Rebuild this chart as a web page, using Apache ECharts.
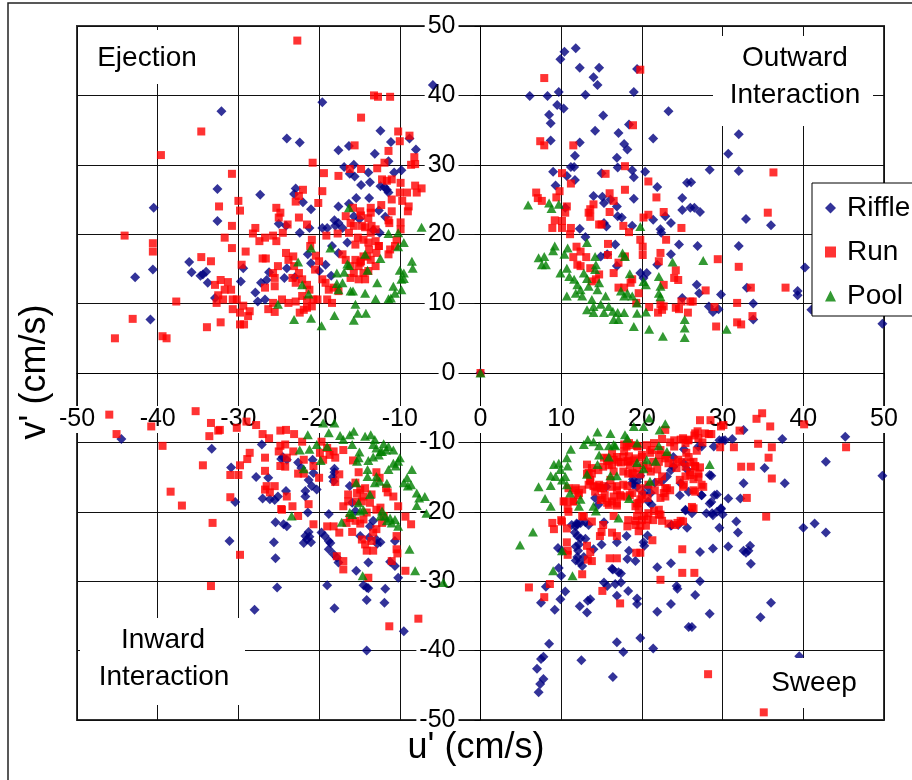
<!DOCTYPE html>
<html>
<head>
<meta charset="utf-8">
<script src="https://cdn.jsdelivr.net/npm/echarts@6/dist/echarts.min.js"></script>
<style>
  html, body { margin: 0; padding: 0; background: #fff; }
  #chart { width: 912px; height: 780px; }
</style>
</head>
<body>
<div id="chart"></div>
<script>
// Velocity fluctuation pairs (u', v') in cm/s for each habitat type
const riffle = [
  [-32.1,37.7],[-32.6,26.5],[-27.3,25.7],[-40.5,23.8],[-32.6,21.9],[-36.1,16.0],[-35.8,14.5],[-40.6,14.9],[-42.8,13.8],[-34.7,14.0],[-34.0,14.6],[-34.4,14.2],[-33.8,13.0],[-29.4,15.1],[-29.7,13.2],[-26.2,14.5],[-27.2,13.0],[-26.5,13.4],[-27.9,11.6],[-27.6,10.3],[-26.7,10.6],[-32.9,10.8],[-40.9,7.7],[-25.0,21.5],
  [-5.9,41.5],[-19.6,39.0],[-24.0,33.8],[-22.4,33.2],[-12.4,34.9],[-17.6,32.1],[-16.3,32.7],[-13.1,31.6],[-11.1,33.3],[-8.8,33.8],[-8.0,32.2],[-11.4,30.5],[-16.9,29.7],[-15.7,30.0],[-16.2,28.7],[-15.6,28.3],[-13.9,28.9],[-13.7,27.5],[-14.8,27.1],[-10.7,28.9],[-9.8,29.2],[-12.4,26.9],[-11.9,26.8],[-11.6,26.4],[-11.4,26.0],[-22.9,26.6],[-23.1,25.8],[-22.0,24.6],[-21.0,23.6],[-15.4,25.2],[-13.8,25.2],[-17.6,24.0],[-16.3,24.4],[-24.1,21.2],[-22.4,20.2],[-21.2,20.9],[-19.6,20.9],[-19.0,20.9],[-18.1,22.0],[-17.6,21.6],[-18.0,21.2],[-17.1,20.9],[-13.3,20.6],[-12.5,20.2],[-15.7,22.6],[-15.0,22.2],[-11.8,22.5],[-12.6,23.4],[-16.5,18.8],[-18.4,18.3],[-17.6,17.3],[-21.4,17.1],[-21.0,15.8],[-19.2,15.6],[-20.0,14.7],[-24.3,13.7],[-23.0,13.8],[-18.5,14.0],[-24.0,15.1],
  [11.8,46.8],[10.4,46.3],[9.9,45.2],[12.3,44.0],[14.7,44.0],[14.0,42.6],[14.5,41.5],[19.4,43.8],[6.1,39.9],[8.3,39.9],[9.7,40.5],[13.0,40.1],[19.0,40.5],[9.5,38.6],[10.3,38.1],[23.3,37.7],[8.5,37.2],[8.7,36.0],[15.2,37.1],[18.4,35.8],[14.2,34.9],[17.1,34.6],[21.4,33.8],[8.7,33.5],[12.3,33.2],[17.8,33.0],[18.2,32.2],[11.7,31.3],[16.9,31.0],[9.0,29.0],[11.2,29.7],[11.6,29.7],[15.0,28.8],[17.0,29.6],[18.8,29.2],[19.0,28.2],[20.4,29.0],[10.7,28.4],[11.7,27.8],[9.3,27.0],[21.9,26.8],[25.6,27.4],[14.0,25.5],[15.1,25.4],[15.3,24.5],[16.1,25.0],[19.0,25.1],[25.0,25.2],[25.0,23.5],[26.0,23.8],[10.5,23.8],[16.9,24.0],[17.0,22.6],[17.5,22.4],[15.3,21.6],[15.6,21.1],[21.4,22.1],[22.9,22.6],[23.6,21.6],[18.8,21.2],[22.3,20.7],[22.4,20.2],[12.3,20.8],[13.0,19.6],[16.7,18.5],[14.9,16.8],[15.7,17.1],[24.6,18.5],[23.6,17.1],[21.9,15.6],[19.8,14.4],[20.6,14.4],[20.2,13.7],[16.9,15.4],[25.0,10.8],
  [32.0,34.4],[30.7,31.6],[28.4,29.3],[32.0,29.1],[26.1,27.5],[26.5,23.8],[27.2,23.2],[32.9,22.2],[36.0,21.3],[26.9,18.3],[32.0,18.3],[40.2,15.2],[26.8,12.7],[27.1,11.5],[33.0,12.3],[29.8,11.3],[28.3,9.6],[28.8,8.8],[29.5,9.2],[33.8,10.0],[33.8,7.7],[39.3,11.8],[39.3,11.2],[41.0,9.1],[49.8,7.1],
  [-44.5,-9.5],[-33.3,-10.9],[-27.1,-10.3],[-30.9,-13.6],[-27.8,-15.0],[-26.3,-15.1],[-30.4,-18.6],[-27.0,-18.1],[-26.1,-18.2],[-25.5,-18.3],[-25.1,-17.8],[-25.4,-21.5],[-31.1,-24.2],[-25.6,-24.4],[-25.4,-26.7],[-25.2,-30.9],[-28.0,-34.1],[-24.7,-12.4],
  [-24.5,-12.1],[-24.0,-12.5],[-22.6,-12.9],[-22.2,-13.7],[-20.8,-12.5],[-20.7,-14.4],[-21.3,-15.4],[-20.9,-16.3],[-20.3,-16.8],[-21.7,-17.0],[-21.7,-17.8],[-24.1,-17.0],[-18.1,-13.8],[-18.1,-14.3],[-18.3,-15.0],[-18.2,-15.6],[-16.2,-16.3],[-21.4,-20.1],[-18.8,-20.3],[-24.4,-21.8],[-24.0,-22.1],[-21.7,-23.5],[-21.2,-23.6],[-21.5,-24.0],[-21.0,-24.4],[-21.3,-22.9],[-21.9,-24.5],[-19.7,-23.0],[-19.3,-23.5],[-18.8,-24.2],[-18.6,-24.5],[-18.8,-25.4],[-18.2,-26.1],[-17.8,-26.6],[-17.6,-27.3],[-15.4,-28.5],[-14.9,-23.5],[-13.8,-23.7],[-12.9,-24.0],[-12.4,-24.4],[-12.8,-24.6],[-10.6,-24.2],[-13.9,-27.3],[-11.2,-27.2],[-10.6,-27.8],[-10.2,-29.5],[-19.0,-30.6],[-14.5,-30.6],[-14.1,-30.9],[-13.9,-31.0],[-11.8,-31.1],[-14.1,-32.7],[-11.9,-33.1],[-18.1,-33.9],[-9.5,-37.2],[-14.1,-40.0],[-15.9,-18.7],[-15.5,-19.9],[-13.7,-22.1],[-13.3,-21.3],
  [7.2,-46.0],[7.4,-44.8],[7.8,-44.1],[7.0,-42.6],[7.5,-41.2],[7.8,-40.9],[8.5,-39.0],[12.5,-41.4],[16.4,-43.8],[16.9,-38.8],[17.7,-40.2],[19.8,-38.2],[21.4,-39.7],[7.5,-33.1],[9.2,-34.1],[9.9,-32.6],[10.5,-31.5],[8.1,-30.8],[9.7,-28.1],[10.0,-29.2],[12.3,-33.6],[13.2,-34.5],[13.3,-32.8],[13.6,-32.6],[15.3,-30.2],[15.7,-30.7],[16.4,-28.3],[16.7,-30.4],[17.4,-28.9],[17.4,-30.2],[16.9,-32.1],[18.3,-31.4],[19.4,-32.5],[19.4,-33.3],[21.9,-34.4],[23.6,-33.3],[21.9,-28.0],[23.6,-27.4],[24.3,-30.7],[24.4,-31.1],[25.8,-36.6],[11.8,-22.1],[12.0,-21.8],[12.4,-21.6],[11.7,-23.0],[13.0,-21.5],[9.6,-25.2],[10.1,-25.6],[12.0,-23.5],[12.4,-23.8],[13.0,-23.9],[12.2,-24.7],[11.8,-25.0],[12.1,-25.6],[11.8,-27.0],[12.3,-27.3],[12.6,-27.8],[12.8,-26.5],[12.0,-26.5],[14.0,-25.4],[15.0,-24.7],[15.3,-21.5],[16.9,-24.4],[18.1,-23.5],[18.4,-25.6],[18.2,-26.8],[19.2,-27.1],[20.2,-24.4],[20.3,-24.9],[20.7,-23.4],[16.3,-28.2],[17.1,-28.7],[18.8,-15.8],[19.4,-16.4],[20.2,-17.3],[20.7,-16.4],[21.1,-17.3],[21.6,-15.8],[22.5,-15.6],[23.1,-14.9],[23.6,-14.0],[23.9,-12.1],[24.8,-15.9],[25.2,-11.0],[25.4,-19.8],[25.6,-22.3],[23.6,-22.0],[18.9,-15.3],[19.8,-14.8],[15.6,-16.4],[25.2,-13.0],[25.6,-13.9],
  [27.0,-10.6],[29.6,-9.7],[28.9,-10.6],[30.3,-9.7],[23.9,-13.5],[28.4,-14.7],[24.7,-17.6],[25.8,-17.1],[27.4,-17.6],[29.0,-17.6],[28.4,-18.8],[29.8,-19.5],[25.4,-19.7],[26.2,-20.2],[28.7,-20.2],[24.5,-21.9],[23.7,-21.9],[20.8,-18.5],[21.2,-19.0],[18.9,-16.1],[19.4,-15.7],[14.2,-18.0],[14.6,-19.0],[11.9,-21.7],[11.3,-21.9],[13.4,-21.9],
  [32.6,-8.2],[30.0,-9.7],[31.2,-9.5],[27.4,-10.6],[37.4,-9.5],[45.2,-9.2],[42.8,-12.8],[49.8,-14.8],[35.2,-13.7],[28.6,-14.8],[32.6,-15.9],[37.7,-15.9],[27.4,-17.6],[29.3,-17.5],[30.7,-18.1],[32.2,-18.1],[28.6,-18.6],[28.0,-20.2],[28.8,-20.5],[29.3,-20.0],[29.8,-19.6],[30.0,-20.4],[29.6,-22.3],[31.7,-21.4],[31.9,-23.0],[40.0,-22.3],[41.4,-21.7],[42.8,-23.0],[27.2,-25.8],[28.8,-25.3],[30.7,-25.0],[32.6,-25.6],[32.9,-25.9],[33.4,-24.9],[33.2,-25.6],[33.5,-27.5],[27.2,-30.0],[26.6,-32.0],[28.4,-34.7],[26.2,-36.6],[36.0,-33.1],[34.7,-35.2],[39.5,-40.8],
  [0,0]
];

const run = [
  [-34.6,34.8],[-39.6,31.4],[-30.8,28.7],[-30.0,24.8],[-29.8,23.4],[-32.4,24.0],[-30.8,21.2],[-44.1,19.8],[-40.6,18.7],[-40.6,17.5],[-31.7,19.5],[-27.9,20.9],[-28.2,20.1],[-27.4,19.0],[-26.7,19.5],[-25.7,19.8],[-25.3,19.0],[-25.3,23.8],[-30.8,18.0],[-29.1,17.5],[-34.6,16.7],[-33.4,16.1],[-27.0,16.5],[-26.6,16.5],[-29.6,15.6],[-32.2,13.4],[-32.9,12.7],[-31.3,13.1],[-30.9,12.0],[-31.7,12.0],[-32.5,11.2],[-32.7,10.1],[-31.9,10.6],[-30.7,10.6],[-30.2,10.6],[-30.7,9.2],[-29.4,9.7],[-29.8,8.7],[-28.8,8.2],[-28.6,8.9],[-29.8,7.0],[-29.3,7.0],[-32.2,7.3],[-33.9,6.6],[-37.7,10.3],[-43.1,7.8],[-45.3,5.0],[-39.4,5.3],[-38.9,5.0],[-25.5,12.5],[-25.5,13.7],[-25.7,14.4],[-25.1,15.4],[-26.3,9.2],[-25.7,10.1],[-25.5,8.8],[-26.7,12.3],
  [-22.7,47.9],[-13.2,40.0],[-12.7,39.8],[-11.2,39.8],[-14.8,36.8],[-10.2,34.8],[-10.0,33.4],[-8.8,34.2],[-15.6,32.8],[-11.4,32.0],[-11.9,30.3],[-8.2,31.1],[-8.6,30.0],[-8.1,30.1],[-20.8,30.3],[-19.4,28.8],[-17.6,28.4],[-16.2,29.4],[-14.8,29.4],[-12.8,29.5],[-12.2,27.9],[-11.6,27.7],[-11.0,27.9],[-9.9,27.4],[-8.1,27.0],[-7.3,26.6],[-7.9,26.0],[-10.0,26.0],[-9.1,26.0],[-19.6,26.2],[-20.1,24.5],[-22.0,26.4],[-22.5,25.5],[-22.9,24.7],[-11.0,25.0],[-12.3,24.2],[-9.7,24.8],[-8.9,24.0],[-9.0,23.3],[-15.8,23.8],[-14.9,23.3],[-14.8,22.7],[-13.6,23.8],[-13.6,23.1],[-11.0,23.3],[-16.7,22.6],[-16.1,21.6],[-15.7,21.2],[-13.9,22.3],[-14.7,21.2],[-14.3,21.0],[-13.5,21.2],[-13.0,20.7],[-11.4,22.0],[-11.3,21.6],[-9.9,21.7],[-9.9,20.7],[-24.8,23.1],[-25.0,22.4],[-23.9,21.4],[-24.5,20.2],[-22.5,22.4],[-21.5,21.4],[-20.9,19.2],[-21.1,18.3],[-19.1,19.8],[-17.7,20.1],[-16.3,20.2],[-15.2,19.5],[-15.5,18.5],[-14.5,19.2],[-13.9,18.8],[-13.0,19.0],[-12.6,18.3],[-13.8,17.8],[-14.5,16.8],[-14.8,16.1],[-15.1,15.4],[-15.7,14.4],[-16.1,13.7],[-10.4,19.2],[-10.6,18.3],[-11.4,17.1],[-11.2,17.8],
  [-24.1,17.3],[-23.2,16.8],[-23.8,16.3],[-23.1,15.4],[-22.5,14.4],[-23.3,13.7],[-22.9,13.0],[-22.1,13.5],[-21.5,12.7],[-21.2,12.0],[-22.1,11.1],[-22.9,10.3],[-23.8,10.1],[-24.6,10.6],[-21.5,10.5],[-20.7,10.6],[-20.4,16.9],[-20.0,16.1],[-20.5,14.9],[-19.6,13.5],[-19.2,13.0],[-18.8,12.0],[-18.2,12.3],[-17.6,11.8],[-19.0,10.6],[-18.4,10.1],[-17.1,17.1],[-16.7,16.3],[-16.1,15.4],[-15.5,16.3],[-14.9,15.9],[-14.0,16.8],[-13.6,16.3],[-13.0,15.4],[-14.5,14.4],[-15.1,13.5],[-14.3,13.5],[-13.9,14.7],[-22.4,8.7],[-21.5,9.4],[-20.9,9.6],[-20.2,10.6],[-21.9,9.1],[-12.6,18.3],[-12.9,17.3],[-13.6,20.2],
  [7.9,42.5],[19.8,43.7],[18.9,35.7],[7.4,33.4],[7.9,32.8],[11.5,32.8],[17.9,29.8],[10.1,28.8],[15.5,28.7],[11.2,27.3],[20.8,27.6],[17.9,26.4],[21.8,25.3],[9.8,26.2],[6.9,26.0],[7.1,25.2],[7.6,24.8],[9.4,25.3],[16.0,25.9],[16.5,24.8],[14.0,24.3],[13.6,23.6],[13.4,23.1],[13.6,22.5],[14.7,21.4],[15.0,21.4],[16.0,23.2],[10.7,24.0],[10.5,23.1],[9.2,22.0],[8.9,20.9],[10.1,21.9],[10.1,20.9],[11.2,20.9],[11.1,20.0],[20.2,22.4],[20.8,22.8],[22.7,23.2],[24.9,20.9],[17.7,21.2],[18.4,20.3],[19.8,19.2],[20.1,18.2],[20.1,17.0],[15.8,18.6],[15.8,17.0],[11.9,18.2],[12.4,17.5],[13.1,16.7],[11.5,16.7],[12.0,15.6],[12.4,15.4],[13.6,15.1],[17.9,16.8],[17.1,15.9],[16.5,14.4],[23.0,19.2],[22.3,17.3],[22.1,16.1],[24.2,14.8],[24.0,13.7],[24.5,13.4],[22.7,12.7],[14.7,14.2],[14.3,13.5],[13.8,13.2],[18.8,13.5],[18.6,13.0],[17.1,12.3],[17.8,12.3],[19.6,11.5],[19.3,10.1],[20.9,9.5],[22.3,9.9],[22.7,9.6],[22.0,8.7],[22.5,9.1],[24.2,9.4],[24.6,9.2],[24.9,10.3],[25.7,8.7],[26.0,10.3],
  [36.3,28.9],[35.6,23.1],[29.4,16.4],[32.0,15.3],[33.5,12.3],[37.8,12.3],[27.9,11.9],[26.3,10.3],[29.0,9.5],[31.8,10.1],[29.2,6.7],[31.8,7.3],[32.3,7.0],[33.7,8.2],
  [-46.0,-6.0],[-45.1,-8.8],[-40.8,-7.7],[-39.4,-10.5],[-35.3,-5.5],[-33.4,-7.2],[-33.6,-9.1],[-32.5,-8.3],[-32.3,-8.2],[-30.2,-7.9],[-29.0,-7.0],[-27.8,-7.5],[-27.0,-8.8],[-26.2,-9.4],[-24.8,-8.3],[-24.8,-10.5],[-24.8,-13.4],[-28.6,-11.5],[-28.9,-12.4],[-26.7,-12.2],[-29.8,-13.3],[-34.4,-13.3],[-31.0,-14.7],[-30.0,-14.7],[-26.7,-14.1],[-26.5,-16.3],[-26.7,-16.8],[-26.1,-17.2],[-25.5,-16.3],[-38.4,-17.1],[-37.0,-19.1],[-31.0,-17.9],[-24.7,-19.6],[-33.2,-21.6],[-29.8,-26.2],[-33.4,-30.7],
  [-24.1,-8.2],[-23.1,-8.8],[-22.1,-9.9],[-24.2,-10.3],[-25.0,-11.3],[-23.2,-11.3],[-24.0,-12.2],[-24.2,-13.5],[-22.6,-14.5],[-21.9,-14.5],[-21.9,-12.5],[-20.7,-13.4],[-20.0,-15.1],[-21.3,-18.9],[-23.3,-19.2],[-24.6,-19.7],[-24.0,-17.8],[-22.6,-20.6],[-20.7,-21.8],[-19.7,-9.9],[-19.0,-10.8],[-18.2,-11.3],[-18.0,-12.2],[-18.7,-11.8],[-19.9,-11.5],[-19.5,-12.5],[-17.0,-11.1],[-15.8,-12.6],[-17.5,-14.6],[-18.0,-15.7],[-15.1,-14.3],[-12.9,-14.3],[-12.5,-15.1],[-11.7,-16.6],[-11.5,-17.2],[-10.8,-17.8],[-10.2,-19.2],
  [-15.5,-15.8],[-14.9,-16.8],[-15.3,-17.3],[-14.3,-16.6],[-14.5,-17.8],[-13.5,-17.5],[-14.7,-18.5],[-13.7,-18.7],[-15.3,-18.5],[-16.4,-17.5],[-17.0,-19.2],[-16.4,-18.5],[-12.9,-19.7],[-12.4,-19.4],[-12.0,-20.6],[-12.2,-21.6],[-12.9,-22.5],[-13.3,-23.0],[-14.1,-20.1],[-14.5,-21.1],[-14.9,-21.7],[-15.5,-21.3],[-16.2,-20.9],[-16.6,-21.6],[-17.5,-23.0],[-18.2,-22.1],[-19.0,-22.1],[-15.9,-22.9],[-9.3,-20.7],[-8.6,-21.8],[-10.4,-23.5],[-14.7,-24.0],[-14.3,-24.7],[-13.5,-24.2],[-14.1,-25.6],[-13.3,-25.6],[-10.4,-25.4],[-10.3,-26.0],[-17.8,-26.4],[-17.0,-27.1],[-17.0,-28.3],[-11.0,-27.1],[-9.3,-28.5],[-13.9,-29.5],[-7.7,-35.4],[-11.3,-36.5],
  [6.0,-30.9],[7.9,-32.3],[8.6,-30.4],[8.9,-21.6],[9.1,-22.5],[10.0,-21.2],[10.7,-22.4],[10.3,-18.5],[10.8,-19.6],[11.5,-18.5],[11.8,-16.6],[12.2,-17.3],[12.6,-16.8],[13.6,-15.6],[14.0,-16.3],[14.7,-16.1],[15.3,-16.3],[13.4,-14.4],[13.8,-13.7],[13.2,-13.2],[15.3,-12.2],[15.7,-12.7],[16.5,-12.5],[16.3,-13.2],[17.4,-12.9],[18.2,-12.7],[15.1,-18.0],[15.7,-18.7],[16.3,-18.5],[16.9,-19.1],[16.5,-20.6],[17.4,-17.8],[18.2,-17.8],[12.6,-20.6],[13.2,-24.9],[13.6,-25.8],[13.3,-26.9],[13.8,-27.1],[10.7,-24.4],[10.8,-25.6],[10.8,-26.2],[12.6,-29.0],[15.0,-22.9],[14.8,-23.5],[16.3,-23.0],[16.9,-23.5],[16.0,-26.7],[16.9,-26.7],[15.1,-31.4],[17.3,-33.2],
  [18.2,-22.1],[19.2,-21.3],[19.6,-22.8],[19.8,-22.0],[20.5,-22.0],[20.7,-21.1],[19.4,-20.6],[20.3,-20.6],[19.3,-25.9],[19.8,-25.9],[21.3,-24.1],[22.1,-19.7],[22.3,-20.4],[22.5,-21.3],[21.5,-19.9],[19.6,-18.7],[19.2,-19.2],[19.8,-18.2],
  [17.8,-10.3],[18.4,-10.1],[19.4,-10.5],[21.5,-10.1],[22.3,-11.1],[23.1,-11.9],[24.0,-10.6],[24.8,-9.6],[25.4,-10.1],[25.8,-9.6],[17.8,-11.3],[18.4,-12.0],[19.0,-12.6],[19.4,-13.7],[18.8,-14.4],[19.8,-14.6],[21.1,-14.2],[21.9,-13.9],[22.5,-14.9],[23.1,-16.6],[22.7,-17.3],[22.3,-18.0],[20.7,-18.0],[25.2,-16.1],[24.8,-21.3],[24.4,-21.6],[25.0,-25.4],[25.0,-28.8],[22.3,-29.8],[18.2,-16.3],[18.8,-17.3],[16.9,-16.3],[16.1,-15.4],[14.9,-16.6],
  [26.5,-9.0],[27.5,-10.0],[25.5,-11.5],[26.8,-11.2],[24.5,-12.5],[23.5,-10.0],[22.5,-9.5],[21.0,-11.5],[20.0,-11.8],
  [26.6,-8.7],[27.8,-8.7],[29.8,-7.7],[22.9,-8.2],[24.0,-9.7],[25.1,-9.4],[25.7,-9.7],[18.1,-10.6],[18.7,-10.4],[19.5,-10.6],[20.6,-10.4],[21.2,-11.1],[22.1,-11.8],
  [16.3,-11.6],[16.9,-12.1],[17.1,-12.8],[17.7,-12.1],[18.3,-12.8],[19.2,-12.3],[20.0,-12.1],[20.2,-13.3],[20.8,-13.7],[21.4,-12.8],[22.1,-12.8],[22.9,-12.3],[23.3,-13.0],[23.9,-13.0],[24.3,-13.7],[24.9,-12.8],[25.4,-13.5],[25.8,-12.1],[26.4,-12.8],[26.6,-13.5],[27.0,-14.5],[26.0,-14.7],[25.4,-14.9],[24.7,-15.4],
  [13.2,-14.5],[13.6,-15.4],[13.8,-14.5],[14.6,-14.0],[15.2,-13.5],[15.9,-13.3],[15.7,-12.3],[16.5,-14.2],[17.7,-14.2],[18.3,-14.5],[18.9,-14.5],[18.5,-13.3],
  [13.4,-16.1],[14.4,-16.4],[15.2,-16.6],[16.3,-16.4],[16.9,-16.9],[17.7,-16.1],[19.8,-16.6],[20.8,-16.1],[22.1,-15.7],[21.6,-16.9],[22.9,-16.6],[23.5,-16.9],[25.1,-16.4],[26.4,-16.9],[27.4,-16.1],[22.9,-17.8],[20.0,-17.6],[18.5,-17.6],[17.3,-17.6],[16.5,-17.8],[15.4,-17.6],[14.2,-17.1],[11.7,-16.9],[10.9,-16.6],[12.1,-17.6],[10.5,-18.5],[11.5,-18.5],
  [14.9,-18.3],[15.9,-19.0],[16.9,-18.8],[19.4,-18.8],[19.6,-19.7],[20.8,-20.2],[22.1,-20.4],[21.4,-21.2],[23.3,-21.7],[24.1,-21.9],[25.1,-21.4],[26.2,-19.3],[10.9,-20.0],[10.1,-21.4],[12.8,-20.7],[13.8,-21.4],[15.2,-21.9],[20.0,-21.2],[19.2,-21.9],[18.3,-21.2],
  [34.9,-5.8],[34.2,-6.6],[35.9,-7.7],[30.1,-7.5],[32.1,-8.3],[27.2,-6.8],[28.5,-6.8],[26.9,-8.4],[27.0,-9.4],[28.3,-8.8],[28.6,-8.8],[29.7,-10.7],[31.4,-10.7],[34.4,-10.2],[36.1,-10.7],[35.7,-12.2],[40.1,-7.4],[45.3,-10.7],[32.3,-13.5],[33.5,-13.5],[36.1,-15.2],[33.0,-18.0],[35.4,-20.7],[26.5,-28.8],[28.2,-43.4],[35.1,-48.9],[26.0,-12.9],[26.6,-13.4],[27.2,-13.6],[26.0,-14.3],[26.4,-15.3],[27.0,-15.0],[27.6,-16.4],[26.6,-17.1],[26.4,-19.5],
  [0,0]
];

const pool = [
  [-25.1,9.9],
  [-16.3,23.8],[-7.3,21.0],[-11.4,20.1],[-10.2,20.2],[-9.5,18.8],[-10.2,18.2],[-21.0,18.0],[-18.6,18.0],[-14.3,17.1],[-12.4,16.5],[-16.5,15.7],[-16.3,15.5],[-17.8,14.4],[-16.9,14.5],[-14.0,14.8],[-22.6,16.0],
  [-8.5,16.1],[-8.4,15.1],[-10.0,14.8],[-9.5,14.4],[-9.8,13.5],[-9.5,13.6],[-9.8,12.0],[-10.8,12.5],[-10.6,11.5],[-11.1,10.8],
  [-17.8,12.9],[-17.1,13.0],[-17.6,12.0],[-22.1,12.7],[-21.3,11.4],[-16.1,11.8],[-15.8,11.8],[-14.3,11.5],[-12.8,13.0],[-13.0,10.7],[-11.4,10.7],[-15.5,9.9],[-15.2,8.6],[-14.2,8.6],[-15.7,7.6],[-18.1,8.3],[-21.0,7.9],[-23.1,7.7],[-19.7,6.8],
  [5.9,24.2],[8.5,24.5],[8.8,23.7],[9.7,24.3],[9.2,18.3],[9.0,17.6],[10.8,18.0],[10.4,17.1],[7.2,16.6],[7.9,16.8],[8.1,15.6],[7.6,15.6],[13.2,18.8],[14.2,16.8],[14.3,15.6],[14.2,14.9],[14.7,13.0],[14.5,12.0],
  [10.7,15.1],[9.9,14.4],[11.0,13.9],[11.6,13.5],[12.0,12.7],[12.8,14.4],[13.2,13.6],[13.4,12.5],[12.4,12.0],[11.8,11.5],[10.7,11.1],[12.6,11.1],
  [17.6,17.3],[17.9,16.8],[19.8,21.1],[23.8,16.0],[18.5,14.3],[20.2,13.2],[20.5,12.7],[22.1,13.9],[22.3,12.5],[22.1,11.5],[22.3,11.0],
  [17.4,11.8],[17.8,11.1],[18.2,11.5],[18.8,11.1],[19.4,10.1],[13.2,9.1],[14.0,8.7],[14.9,9.9],[15.5,11.1],[15.9,9.6],[15.3,8.7],[16.4,8.9],[17.0,8.7],[16.5,7.7],[17.1,7.7],[17.8,8.7],[19.0,6.7],
  [19.4,8.6],[20.5,8.8],[20.9,6.3],[22.6,5.3],[25.3,7.7],[25.3,6.5],[25.3,5.1],[14.0,9.6],[13.8,10.6],
  [27.6,16.2],[30.5,6.3],
  [-19.5,-7.2],[-18.1,-7.2],[-18.8,-8.6],[-21.4,-8.9],[-17.4,-9.0],[-17.0,-9.6],[-16.2,-8.9],[-15.7,-8.4],[-22.4,-11.1],[-21.2,-11.0],[-20.3,-10.3],[-19.0,-10.6],[-21.9,-13.8],[-19.8,-12.6],[-15.9,-10.3],[-15.0,-11.4],[-15.1,-12.2],[-15.3,-12.7],
  [-14.3,-9.1],[-13.6,-8.9],[-13.1,-9.6],[-13.3,-10.3],[-12.9,-10.8],[-12.4,-11.3],[-12.0,-10.2],[-11.7,-11.1],[-11.4,-10.6],[-10.8,-11.1],[-13.9,-12.6],[-13.3,-12.1],[-12.6,-11.8],[-12.2,-11.3],
  [-14.0,-13.9],[-12.9,-14.9],[-12.5,-15.6],[-13.1,-15.8],[-14.0,-14.9],[-10.0,-12.2],[-10.8,-13.0],[-10.5,-13.4],[-10.2,-12.7],[-11.4,-13.9],[-11.6,-15.9],
  [-8.5,-13.9],[-9.1,-15.1],[-9.5,-15.8],[-9.0,-16.3],[-8.6,-16.1],[-7.9,-17.3],[-7.6,-18.0],[-7.9,-19.1],[-6.9,-17.8],[-6.7,-20.2],
  [-15.4,-15.8],[-15.1,-18.7],[-14.5,-19.7],[-13.7,-17.5],[-15.9,-20.4],[-16.2,-20.1],[-14.9,-19.9],
  [-12.2,-19.9],[-11.8,-20.6],[-12.4,-20.6],[-11.6,-21.3],[-11.2,-20.9],[-10.6,-21.1],[-10.2,-22.1],[-11.0,-21.6],
  [-17.2,-21.5],[-23.4,-20.6],[-8.8,-25.4],[-8.1,-28.5],[-14.6,-29.2],[-4.6,-30.2],
  [4.9,-24.8],[6.5,-22.9],[7.2,-16.4],[8.0,-18.1],[8.7,-19.2],[8.7,-16.2],
  [9.1,-13.2],[9.7,-13.0],[8.7,-14.8],[9.3,-14.9],[9.9,-13.9],[10.5,-14.9],[10.7,-16.1],[10.1,-15.4],[10.8,-13.4],[11.2,-11.0],[10.7,-12.2],
  [12.8,-10.3],[13.3,-9.6],[14.0,-9.9],[14.5,-8.5],[14.7,-10.5],[16.1,-8.7],[15.9,-10.5],[16.5,-10.3],[16.7,-10.5],[17.9,-8.9],[18.2,-9.4],[19.4,-10.1],[19.0,-7.7],[20.2,-7.7],[20.9,-6.5],[22.2,-8.2],[22.9,-7.3],
  [14.7,-11.8],[15.9,-12.1],[14.5,-13.2],[13.2,-14.6],[12.4,-18.2],[12.2,-19.2],[14.0,-19.2],[14.3,-19.9],[16.1,-14.8],[16.9,-14.8],[17.1,-20.9],[18.4,-18.1],[11.1,-17.3],
  [19.4,-12.9],[20.6,-12.5],[20.2,-13.8],[21.0,-15.6],[21.7,-12.7],[22.1,-10.5],[23.1,-11.3],
  [10.1,-25.6],[9.0,-28.5],[11.4,-29.2],
  [28.4,-13.2],
  [0,0]
];

const seriesNames = ['Riffle', 'Run', 'Pool'];
const FONT = "'Liberation Sans', Arial, sans-serif";

// plot box in pixels; both axes are drawn through the origin
const PLOT = { left: 77, top: 26, width: 807, height: 694 };
const X_TO_ORIGIN = PLOT.width / 2;   // shift of the value axis from the left edge to u' = 0
const Y_TO_ORIGIN = PLOT.height / 2;  // shift of the value axis from the bottom edge to v' = 0

const chart = echarts.init(document.getElementById('chart'), null, { renderer: 'canvas' });

// white boxes behind the quadrant captions
function captionBox(x, y, w, h) {
  return { type: 'rect', z: 100, shape: { x: x, y: y, width: w, height: h }, style: { fill: '#fff' } };
}
function caption(text, x, y, size) {
  return {
    type: 'text', z: 101, x: x, y: y,
    style: { text: text, font: size + 'px ' + FONT, fill: '#000', textAlign: 'center', textVerticalAlign: 'middle' }
  };
}

const option = {
  animation: false,
  backgroundColor: '#fff',
  grid: {
    left: PLOT.left, top: PLOT.top, width: PLOT.width, height: PLOT.height,
    show: true, borderColor: '#333', borderWidth: 2, backgroundColor: 'transparent'
  },
  xAxis: {
    type: 'value', min: -50, max: 50, interval: 10,
    position: 'bottom', offset: -Y_TO_ORIGIN,
    axisLine: { onZero: false, lineStyle: { color: '#000', width: 1 } },
    axisTick: { show: true, length: 6, lineStyle: { color: '#000' } },
    axisLabel: {
      fontSize: 25, fontFamily: FONT, color: '#000', margin: 33,
      backgroundColor: '#fff', padding: [1, 2],
      showMinLabel: true, showMaxLabel: true
    },
    splitLine: { show: true, lineStyle: { color: '#111', width: 1 } }
  },
  yAxis: {
    type: 'value', min: -50, max: 50, interval: 10,
    position: 'left', offset: -X_TO_ORIGIN,
    axisLine: { onZero: false, lineStyle: { color: '#000', width: 1 } },
    axisTick: { show: true, length: 6, lineStyle: { color: '#000' } },
    axisLabel: {
      fontSize: 25, fontFamily: FONT, color: '#000', margin: 22,
      backgroundColor: '#fff', padding: [1, 3],
      showMinLabel: true, showMaxLabel: true
    },
    splitLine: { show: true, lineStyle: { color: '#111', width: 1 } }
  },
  legend: {
    data: seriesNames,
    orient: 'vertical',
    left: 812, top: 183,
    itemWidth: 11, itemHeight: 11, itemGap: 16,
    padding: [11, 40, 6, 13],
    backgroundColor: '#fff', borderColor: '#000', borderWidth: 1,
    textStyle: { fontSize: 28, fontFamily: FONT, color: '#000', padding: [0, 0, 0, 6] },
    z: 120
  },
  series: [
    { name: 'Riffle', type: 'scatter', data: riffle, symbol: 'diamond', symbolSize: 10,
      itemStyle: { color: '#000080' }, emphasis: { disabled: true } },
    { name: 'Run', type: 'scatter', data: run, symbol: 'rect', symbolSize: 8,
      itemStyle: { color: '#ff0000' }, emphasis: { disabled: true } },
    { name: 'Pool', type: 'scatter', data: pool, symbol: 'triangle', symbolSize: [10, 9],
      itemStyle: { color: '#008000' }, emphasis: { disabled: true } }
  ],
  graphic: [
    captionBox(90, 30, 115, 54), caption('Ejection', 147, 58, 28),
    captionBox(713, 36, 160, 90), caption('Outward', 795, 58, 28), caption('Interaction', 795, 95, 28),
    captionBox(80, 618, 165, 87), caption('Inward', 163, 640, 28), caption('Interaction', 164, 677, 28),
    captionBox(752, 658, 126, 50), caption('Sweep', 814, 683, 28),
    { type: 'text', z: 101, x: 476, y: 748,
      style: { text: "u' (cm/s)", font: '36px ' + FONT, fill: '#000', textAlign: 'center', textVerticalAlign: 'middle' } },
    { type: 'text', z: 101, x: 35, y: 372, rotation: Math.PI / 2,
      style: { text: "v' (cm/s)", font: '36px ' + FONT, fill: '#000', textAlign: 'center', textVerticalAlign: 'middle' } },
    { type: 'rect', z: 130, shape: { x: 8, y: 3, width: 1000, height: 1000 },
      style: { fill: 'none', stroke: '#222', lineWidth: 1.5 } }
  ]
};

chart.setOption(option);
</script>
</body>
</html>
